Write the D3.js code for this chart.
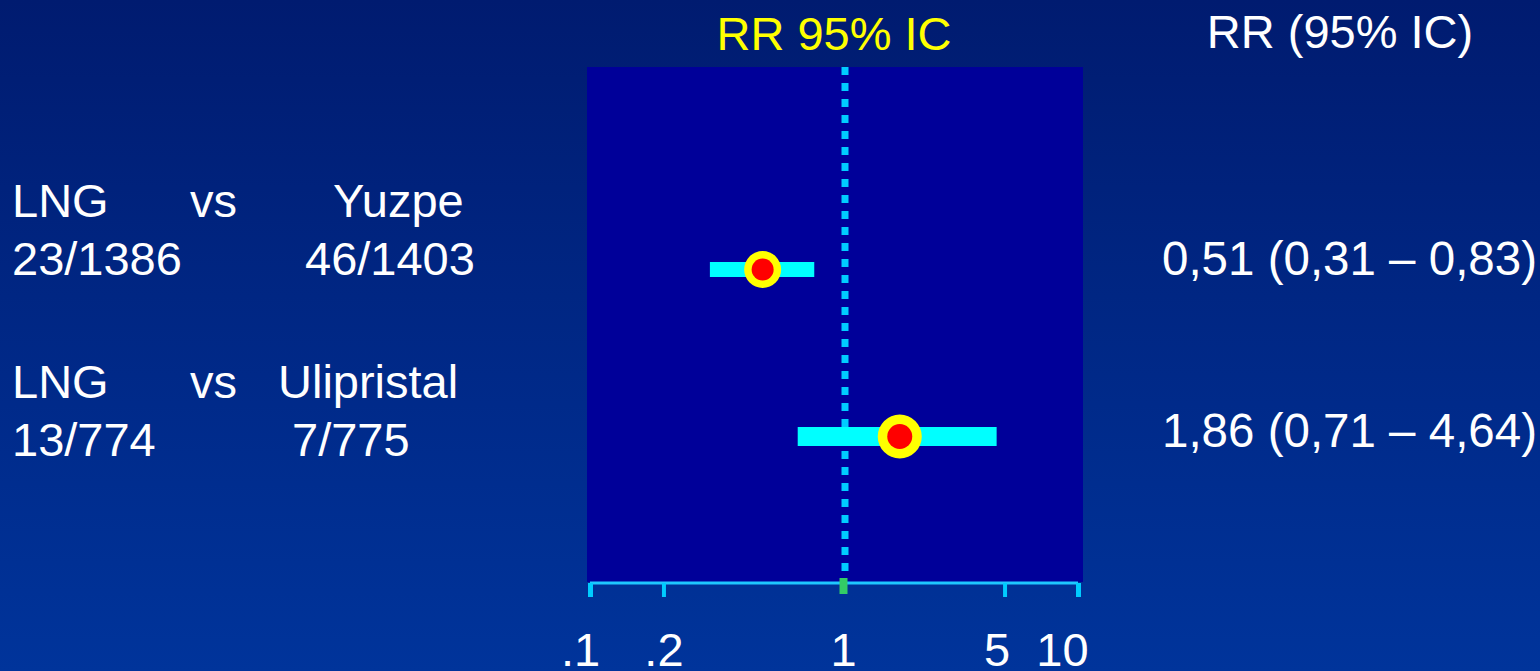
<!DOCTYPE html>
<html>
<head>
<meta charset="utf-8">
<script src="https://cdn.jsdelivr.net/npm/d3@7"></script>
<style>
  html, body { margin: 0; padding: 0; overflow: hidden; }
  svg { display: block; }
</style>
</head>
<body>
<div id="chart"></div>
<script>
// data
const comparisons = ["LNG vs Yuzpe", "LNG vs Ulipristal"];
const groupA = ["LNG", "LNG"];
const groupB = ["Yuzpe", "Ulipristal"];
const eventsA = ["23/1386", "13/774"];
const eventsB = ["46/1403", "7/775"];
const rr = [0.51, 1.86];
const ciLow = [0.31, 0.71];
const ciHigh = [0.83, 4.64];
const rrText = ["0,51 (0,31 \u2013 0,83)", "1,86 (0,71 \u2013 4,64)"];
const tickValues = [0.1, 0.2, 1, 5, 10];
const tickLabels = [".1", ".2", "1", "5", "10"];

// styles / layout per row
const rowStyle = [
  { bar: 15, outer: 18.5, inner: 11, colB: 333, colB2: 305, valueDy: 0 },
  { bar: 19, outer: 22, inner: 12.5, colB: 278, colB2: 292, valueDy: -9 }
];

const width = 1540, height = 671;
const font = "'Liberation Sans', Arial, sans-serif";
const panel = { left: 587, right: 1083, top: 67, bottom: 582 };
const axisY = 583;

const svg = d3.select("#chart").append("svg")
  .attr("width", width)
  .attr("height", height);

const grad = svg.append("defs").append("linearGradient")
  .attr("id", "bg").attr("x1", 0).attr("y1", 0).attr("x2", 0).attr("y2", 1);
grad.append("stop").attr("offset", "0%").attr("stop-color", "#001b70");
grad.append("stop").attr("offset", "100%").attr("stop-color", "#00349b");

svg.append("rect").attr("width", width).attr("height", height).attr("fill", "url(#bg)");

const x = d3.scaleLog().domain([0.1, 10]).range([590, 1078]);
const y = d3.scaleLinear().domain([0, 1]).range([269.5, 436.5]);
const labelY = d3.scaleLinear().domain([0, 1]).range([217, 398]);

// panel
svg.append("rect")
  .attr("x", panel.left).attr("y", panel.top)
  .attr("width", panel.right - panel.left)
  .attr("height", panel.bottom - panel.top)
  .attr("fill", "#000099");

// line of no effect
svg.append("line")
  .attr("x1", x(1) + 11).attr("x2", x(1) + 11)
  .attr("y1", panel.top).attr("y2", panel.bottom - 6)
  .attr("stroke", "#00ccff")
  .attr("stroke-width", 7)
  .attr("stroke-dasharray", "8,8");

// axis
const axis = d3.axisBottom(x)
  .tickValues(tickValues)
  .tickFormat((d, i) => tickLabels[i])
  .tickSize(14)
  .tickSizeOuter(0)
  .tickPadding(36);

const gx = svg.append("g")
  .attr("transform", `translate(0,${axisY})`)
  .call(axis);

gx.select(".domain")
  .attr("stroke", "#1ec8ff")
  .attr("stroke-width", 3)
  .attr("d", `M${x(0.1)},0H${x(10)}`);

gx.selectAll(".tick line")
  .attr("stroke", d => d === 1 ? "#33cc66" : "#00ccff")
  .attr("stroke-width", d => (d === 0.1 || d === 10) ? 5 : d === 1 ? 8 : 4)
  .attr("y1", d => d === 1 ? -5 : 0)
  .attr("y2", d => d === 1 ? 11 : 14)
  .attr("transform", d => d === 1 ? "translate(9,0)" : null);

gx.selectAll(".tick text")
  .attr("fill", "#ffffff")
  .attr("font-family", font)
  .attr("font-size", 47)
  .attr("dy", "0.71em")
  .attr("dx", (d, i) => i === 4 ? -16 : i === 3 ? -8 : i === 2 ? 9 : i === 0 ? -10 : 0);

gx.attr("font-family", null).attr("font-size", null);

// CI bars and point markers
const rows = svg.append("g").selectAll("g")
  .data(rr)
  .join("g");

rows.append("rect")
  .attr("x", (d, i) => x(ciLow[i]))
  .attr("width", (d, i) => x(ciHigh[i]) - x(ciLow[i]))
  .attr("y", (d, i) => y(i) - rowStyle[i].bar / 2)
  .attr("height", (d, i) => rowStyle[i].bar)
  .attr("fill", "#00ffff");

rows.append("circle")
  .attr("cx", d => x(d))
  .attr("cy", (d, i) => y(i))
  .attr("r", (d, i) => rowStyle[i].outer)
  .attr("fill", "#ffff00");

rows.append("circle")
  .attr("cx", d => x(d))
  .attr("cy", (d, i) => y(i))
  .attr("r", (d, i) => rowStyle[i].inner)
  .attr("fill", "#ff0000");

// titles
svg.append("text")
  .attr("x", x(1)).attr("y", 50)
  .attr("text-anchor", "middle")
  .attr("fill", "#ffff00")
  .attr("font-family", font).attr("font-size", 47)
  .text("RR 95% IC");

svg.append("text")
  .attr("x", 1340).attr("y", 48)
  .attr("text-anchor", "middle")
  .attr("fill", "#ffffff")
  .attr("font-family", font).attr("font-size", 47)
  .text("RR (95% IC)");

// left labels
const labels = svg.append("g")
  .attr("fill", "#ffffff")
  .attr("font-family", font)
  .attr("font-size", 47);

comparisons.forEach((c, i) => {
  const s = rowStyle[i];
  labels.append("text").attr("x", 12).attr("y", labelY(i)).text(groupA[i]);
  labels.append("text").attr("x", 190).attr("y", labelY(i)).text("vs");
  labels.append("text").attr("x", s.colB).attr("y", labelY(i)).text(groupB[i]);
  labels.append("text").attr("x", 12).attr("y", labelY(i) + 58).text(eventsA[i]);
  labels.append("text").attr("x", s.colB2).attr("y", labelY(i) + 58).text(eventsB[i]);
  labels.append("text").attr("x", 1162).attr("y", labelY(i) + 58 + s.valueDy).attr("font-size", 47.5).text(rrText[i]);
});
</script>
</body>
</html>
